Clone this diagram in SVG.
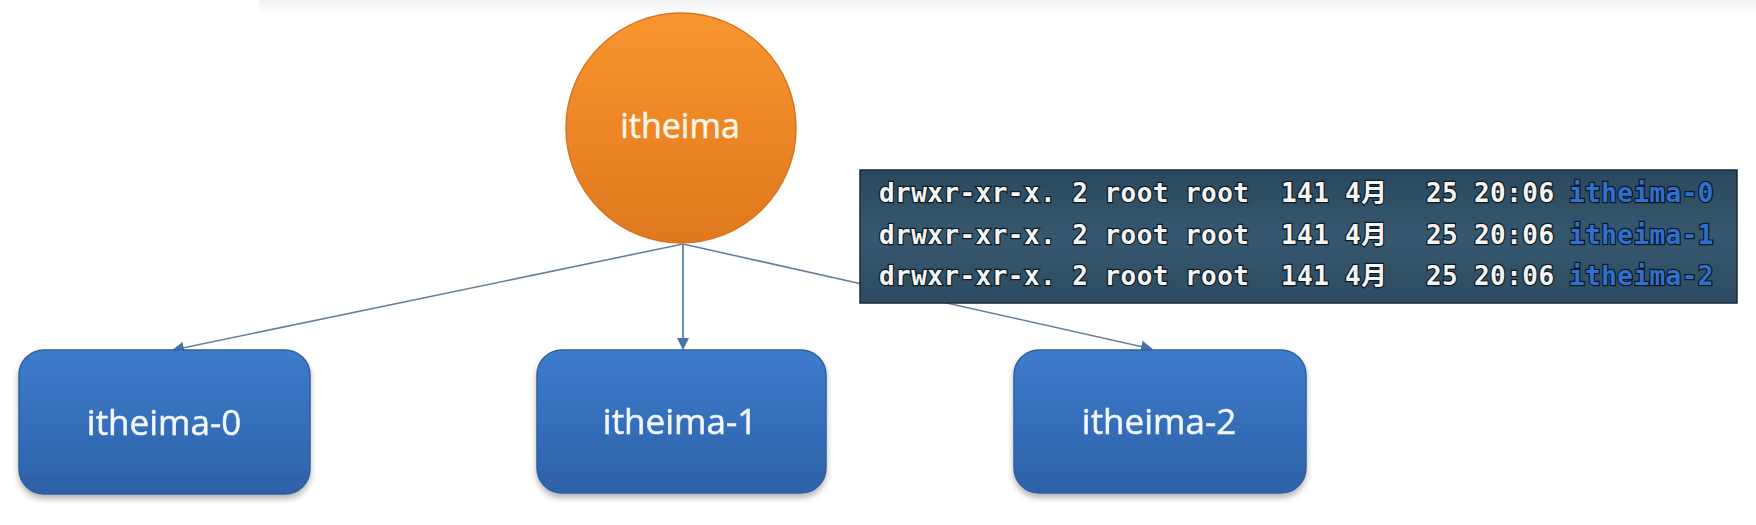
<svg xmlns="http://www.w3.org/2000/svg" width="1756" height="525" viewBox="0 0 1756 525">
<defs>
<linearGradient id="topband" x1="0" y1="0" x2="0" y2="1"><stop offset="0" stop-color="#f1f1f1"/><stop offset="1" stop-color="#ffffff"/></linearGradient>
<linearGradient id="orange" x1="0" y1="0" x2="0" y2="1"><stop offset="0" stop-color="#f9952f"/><stop offset="1" stop-color="#e0781d"/></linearGradient>
<linearGradient id="blue" x1="0" y1="0" x2="0" y2="1"><stop offset="0" stop-color="#3d7ccb"/><stop offset="1" stop-color="#2d61a8"/></linearGradient>
<linearGradient id="term" x1="0" y1="0" x2="0" y2="1"><stop offset="0" stop-color="#2b485d"/><stop offset="0.5" stop-color="#36586f"/><stop offset="1" stop-color="#2d4b60"/></linearGradient>
<filter id="shadow" x="-10%" y="-10%" width="120%" height="130%"><feGaussianBlur in="SourceAlpha" stdDeviation="3"/><feOffset dy="4"/><feComponentTransfer><feFuncA type="linear" slope="0.3"/></feComponentTransfer><feMerge><feMergeNode/><feMergeNode in="SourceGraphic"/></feMerge></filter>
<marker id="arrow" viewBox="0 0 12 12" refX="11" refY="6" markerWidth="12" markerHeight="12" markerUnits="userSpaceOnUse" orient="auto"><path d="M0,0 L12,6 L0,12 z" fill="#4a74a8"/></marker>
</defs>
<style>
.conn{stroke:#66809e;stroke-width:1.6;fill:none}
.box{fill:url(#blue);stroke:#2f609f;stroke-width:1.5}
.lbl{font-family:"Open Sans","Liberation Sans",sans-serif;fill:#f2f7ff;text-anchor:middle;stroke:#f2f7ff;stroke-width:0.5}
.mono{font-family:"DejaVu Sans Mono","Liberation Mono","Noto Sans CJK SC",monospace;font-size:26px;font-weight:bold;fill:#f4f4f4;stroke:#0e1a22;stroke-width:2.4;paint-order:stroke;letter-spacing:0.45px}
.cjk{font-family:"Noto Sans CJK SC",sans-serif;letter-spacing:0}
.dir{fill:#2f6fd2}
</style>
<rect x="0" y="0" width="1756" height="525" fill="#ffffff"/>
<rect x="259" y="0" width="1497" height="16" fill="url(#topband)"/>
<g id="connectors">
<line class="conn" x1="683" y1="244" x2="173" y2="350" marker-end="url(#arrow)"/>
<line class="conn" x1="683" y1="244" x2="683" y2="349" marker-end="url(#arrow)" style="stroke:#4a74a8"/>
<line class="conn" x1="683" y1="244" x2="1152" y2="349" marker-end="url(#arrow)"/>
</g>
<g id="node-itheima">
<circle cx="681" cy="128" r="115" fill="url(#orange)" stroke="#d87520" stroke-width="1.5"/>
<text class="lbl" x="680" y="138" font-size="34" style="fill:#fff6e8;stroke:#fff6e8">itheima</text>
</g>
<g id="node-itheima-0" filter="url(#shadow)">
<rect class="box" x="19" y="350" width="291" height="144" rx="25"/>
<text class="lbl" x="164" y="435" font-size="35">itheima-0</text>
</g>
<g id="node-itheima-1" filter="url(#shadow)">
<rect class="box" x="537" y="350" width="289" height="143" rx="25"/>
<text class="lbl" x="680" y="434" font-size="35">itheima-1</text>
</g>
<g id="node-itheima-2" filter="url(#shadow)">
<rect class="box" x="1014" y="350" width="292" height="143" rx="25"/>
<text class="lbl" x="1159" y="434" font-size="35">itheima-2</text>
</g>
<g id="terminal">
<rect x="860" y="170" width="877" height="133" fill="url(#term)" stroke="#1b2b36" stroke-width="1.5"/>
<g class="mono">
<text x="879" y="202">drwxr-xr-x. 2 root root</text>
<text x="1281" y="202">141</text>
<text x="1345" y="202" class="mono">4<tspan class="cjk">月</tspan></text>
<text x="1426" y="202">25</text>
<text x="1474" y="202">20:06</text>
<text x="1569" y="202" class="mono dir">itheima-0</text>
<text x="879" y="244">drwxr-xr-x. 2 root root</text>
<text x="1281" y="244">141</text>
<text x="1345" y="244" class="mono">4<tspan class="cjk">月</tspan></text>
<text x="1426" y="244">25</text>
<text x="1474" y="244">20:06</text>
<text x="1569" y="244" class="mono dir">itheima-1</text>
<text x="879" y="285">drwxr-xr-x. 2 root root</text>
<text x="1281" y="285">141</text>
<text x="1345" y="285" class="mono">4<tspan class="cjk">月</tspan></text>
<text x="1426" y="285">25</text>
<text x="1474" y="285">20:06</text>
<text x="1569" y="285" class="mono dir">itheima-2</text>
</g>
</g>
</svg>
